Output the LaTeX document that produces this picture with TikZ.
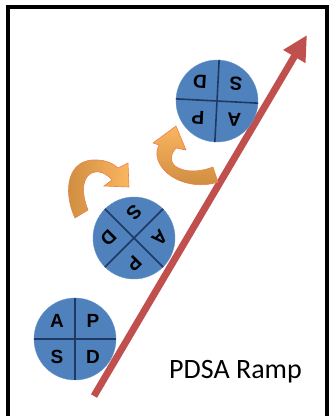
\documentclass[tikz,border=0pt]{standalone}
\usepackage{fontspec}
\setmainfont{Carlito}
\setsansfont{Liberation Sans}
\usetikzlibrary{arrows.meta,calc}

\definecolor{wheelblue}{RGB}{79,129,189}
\definecolor{spokeblue}{RGB}{30,58,100}
\definecolor{rampred}{RGB}{192,80,77}
\definecolor{turndark}{RGB}{204,138,62}
\definecolor{turnlight}{RGB}{250,182,96}
\definecolor{turnedge}{RGB}{236,128,74}

\begin{document}
\begin{tikzpicture}[x=1pt, y=-1pt,
  wheel/.style={circle, fill=wheelblue, draw=wheelblue!85!white,
    minimum size=82pt, inner sep=0pt},
  spoke/.style={draw=spokeblue, line width=1.6pt},
  letter/.style={font=\sffamily\bfseries\fontsize{19}{19}\selectfont,
    inner sep=0pt},
  ramp/.style={draw=rampred, line width=7pt,
    -{Triangle[length=25pt, width=24pt]}},
  turn/.style={draw=turnedge, line width=0.6pt}]
  \useasboundingbox (0,0) rectangle (329,416);

  % frame, open at the bottom
  \draw[line width=4pt] (8,430) -- (8,7) -- (327,7) -- (327,430);

  % the ramp
  \coordinate (foot) at (94,396);
  \coordinate (top) at (307,35);
  \draw[ramp] (foot) -- (top);

  % three PDSA wheels rolling up
  \foreach \w/\pos/\rot in {one/{(75,339)}/0, two/{(134,238)}/-135,
      three/{(217,101)}/-183}{
    \node[wheel, rotate=\rot] (\w) at \pos {};
    \draw[spoke] (\w.north) -- (\w.south);
    \draw[spoke] (\w.east) -- (\w.west);
    \foreach \l/\a in {P/45, D/-45, S/-135, A/135}
      \node[letter, rotate=\rot] (\w-\l) at ($(\w.center)!0.62!(\w.\a)$) {\l};
  }

  % turning arrows between the wheels
  \shadedraw[turn, left color=turndark, right color=turnlight]
    (75,218) .. controls (62,190) and (68,158) .. (97,160)
    .. controls (106,160) and (114,164) .. (118,168)
    -- (128,163) -- (129,187) -- (104,186) -- (112,180)
    .. controls (106,173) and (99,171) .. (95,172)
    .. controls (83,174) and (80,190) .. (88,210) -- cycle;
  \shadedraw[turn, top color=turnlight, bottom color=turndark]
    (218,182) .. controls (195,190) and (165,180) .. (158,160)
    .. controls (156,154) and (157,149) .. (159,145)
    -- (153,143) -- (176,126) -- (186,150) -- (176,148)
    .. controls (170,155) and (170,162) .. (175,166)
    .. controls (185,173) and (200,172) .. (213,167) -- cycle;

  \node[font=\fontsize{28}{28}\selectfont, anchor=base] (title)
    at (235.5,378) {PDSA Ramp};
\end{tikzpicture}
\end{document}
